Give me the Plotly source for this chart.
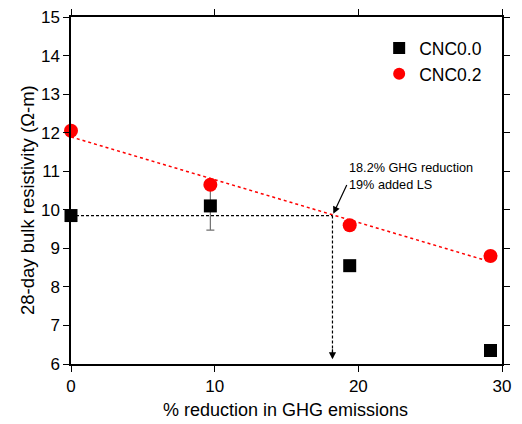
import plotly.graph_objects as go

# Data
ghg_reduction = [0, 9.7, 19.4, 29.2]
cnc00 = [9.85, 10.1, 8.55, 6.35]
cnc00_err = [0, 0.63, 0, 0]
cnc02 = [12.05, 10.65, 9.6, 8.8]
cnc02_err = [0, 0, 0.08, 0.08]
fit_x = [0, 29.2]
fit_y = [11.89, 8.65]
target_x = 18.2
target_y = 9.85
arrow_bottom_y = 6.12

FONT = "Arial, Liberation Sans, sans-serif"

fig = go.Figure()

fig.add_trace(go.Scatter(x=fit_x, y=fit_y, mode="lines",
                         line=dict(color="red", width=1.5, dash="3px,3px"),
                         showlegend=False, hoverinfo="skip"))
fig.add_trace(go.Scatter(x=[0, target_x], y=[target_y, target_y], mode="lines",
                         line=dict(color="black", width=1.2, dash="3px,2px"),
                         showlegend=False, hoverinfo="skip"))
fig.add_trace(go.Scatter(x=[target_x, target_x], y=[target_y, arrow_bottom_y + 0.1], mode="lines",
                         line=dict(color="black", width=1.2, dash="3px,2px"),
                         showlegend=False, hoverinfo="skip"))

fig.add_trace(go.Scatter(x=ghg_reduction, y=cnc00, mode="markers", name="CNC0.0",
                         marker=dict(symbol="square", size=13, color="black"),
                         error_y=dict(type="data", array=cnc00_err, color="#707070",
                                      thickness=1.2, width=4),
                         cliponaxis=False))
fig.add_trace(go.Scatter(x=ghg_reduction, y=cnc02, mode="markers", name="CNC0.2",
                         marker=dict(symbol="circle", size=14, color="red"),
                         error_y=dict(type="data", array=cnc02_err, color="#800000",
                                      thickness=1, width=4),
                         cliponaxis=False))

# arrowhead on vertical dashed line
fig.add_annotation(x=target_x, y=arrow_bottom_y, ax=target_x, ay=arrow_bottom_y + 0.3,
                   xref="x", yref="y", axref="x", ayref="y", text="",
                   showarrow=True, arrowhead=2, arrowsize=1.2, arrowwidth=1.2,
                   arrowcolor="black")
# text annotation with arrow
fig.add_annotation(x=target_x, y=target_y, ax=15, ay=-32,
                   xref="x", yref="y", text="", showarrow=True,
                   arrowhead=2, arrowsize=1.2, arrowwidth=1.2, arrowcolor="black",
                   standoff=2)
fig.add_annotation(x=19.2, y=10.87, xref="x", yref="y", xanchor="left", yanchor="middle",
                   text="18.2% GHG reduction<br>19% added LS", showarrow=False,
                   align="left", font=dict(size=12.7, color="black", family=FONT))

# axis titles as annotations for precise placement
fig.add_annotation(x=0, y=0.4726, xref="paper", yref="paper", xshift=-44,
                   xanchor="center", yanchor="middle", textangle=-90, showarrow=False,
                   text="28-day bulk resistivity (Ω-m)",
                   font=dict(size=18.5, color="black", family=FONT))
fig.add_annotation(x=0.4988, y=0, xref="paper", yref="paper", yshift=-46,
                   xanchor="center", yanchor="middle", showarrow=False,
                   text="% reduction in GHG emissions",
                   font=dict(size=18, color="black", family=FONT))

axis_common = dict(showline=True, linecolor="black", linewidth=1.5, mirror="ticks",
                   ticks="outside", ticklen=6, tickwidth=1.2, tickcolor="black",
                   showgrid=False, zeroline=False, automargin=False,
                   ticklabeloverflow="allow",
                   tickfont=dict(size=17, color="black", family=FONT))

fig.update_xaxes(range=[0, 30], dtick=10, **axis_common)
fig.update_yaxes(range=[6, 15], dtick=1, **axis_common)

# page body has an 8px default margin, so the figure is sized/offset to compensate
fig.update_layout(width=514, height=416, margin=dict(l=63, r=20, t=9, b=60),
                  plot_bgcolor="white", paper_bgcolor="white",
                  legend=dict(x=0.715, y=0.962, xanchor="left", yanchor="top",
                              bgcolor="rgba(0,0,0,0)",
                              font=dict(size=17.5, color="black", family=FONT),
                              itemsizing="constant"))

fig.write_html("out.html")
